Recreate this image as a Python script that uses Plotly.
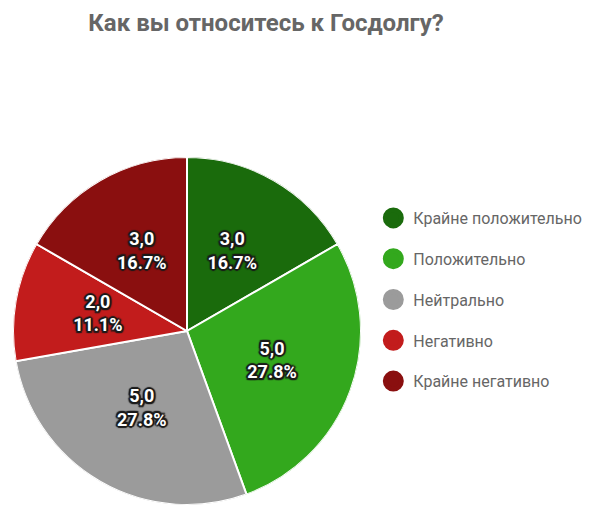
import plotly.graph_objects as go

categories = ["Крайне положительно", "Положительно", "Нейтрально", "Негативно", "Крайне негативно"]
values = [3, 5, 5, 2, 3]
value_labels = ["3,0", "5,0", "5,0", "2,0", "3,0"]
colors = ["#1a6b0c", "#33a81d", "#9b9b9b", "#c21c1c", "#8a0f0f"]
title_text = "Как вы относитесь к Госдолгу?"

total = sum(values)
mids, widths = [], []
acc = 0
for v in values:
    mids.append((acc + v / 2) / total * 360)
    widths.append(v / total * 360)
    acc += v
label_texts = [f"{vl}<br>{v / total * 100:.1f}%" for vl, v in zip(value_labels, values)]

dom = dict(x=[13/610, 361/610], y=[1-505/516, 1-157/516])
shadow = ("1.5px 1.5px 1px #1a1a1a, -1.5px -1.5px 1px #1a1a1a, 1.5px -1.5px 1px #1a1a1a, "
          "-1.5px 1.5px 1px #1a1a1a, 0px 2px 1px #1a1a1a, 0px -2px 1px #1a1a1a, "
          "2px 0px 1px #1a1a1a, -2px 0px 1px #1a1a1a")

fig = go.Figure()
fig.add_trace(go.Barpolar(
    r=[1] * len(values),
    theta=mids,
    width=widths,
    base=0,
    marker=dict(color=colors, line=dict(color="white", width=2)),
    customdata=[[c, v] for c, v in zip(categories, values)],
    hovertemplate="%{customdata[0]}: %{customdata[1]}<extra></extra>",
    showlegend=False,
))

fig.add_trace(go.Scatterpolar(
    r=[0.52] * len(values),
    theta=mids,
    mode="text",
    text=label_texts,
    textposition="middle center",
    textfont=dict(family="Roboto", size=18, color="white", weight="bold", shadow=shadow),
    showlegend=False,
    hoverinfo="skip",
))

for name, col in zip(categories, colors):
    fig.add_trace(go.Scatter(
        x=[None], y=[None], mode="markers", name=name,
        marker=dict(symbol="circle", size=16, color=col, line=dict(color=col, width=5)),
        legendgroup=name, showlegend=True,
    ))

fig.update_layout(
    width=610, height=516,
    margin=dict(l=0, r=0, t=0, b=0),
    paper_bgcolor="white", plot_bgcolor="white",
    title=dict(text=title_text, x=266/610, xanchor="center", y=1-23/516, yanchor="middle",
               yref="container",
               font=dict(family="Roboto", size=24, color="#666666", weight="bold")),
    xaxis=dict(visible=False),
    yaxis=dict(visible=False),
    polar=dict(domain=dom, bgcolor="rgba(0,0,0,0)", hole=0,
               radialaxis=dict(visible=False, range=[0, 1]),
               angularaxis=dict(visible=False, rotation=90, direction="clockwise")),
    legend=dict(x=0.612, xanchor="left", y=1-201/516, yanchor="top",
                font=dict(family="Roboto", size=16, color="#666666"),
                tracegroupgap=17, itemclick=False, bgcolor="rgba(0,0,0,0)"),
)

fig.write_html("out.html")
